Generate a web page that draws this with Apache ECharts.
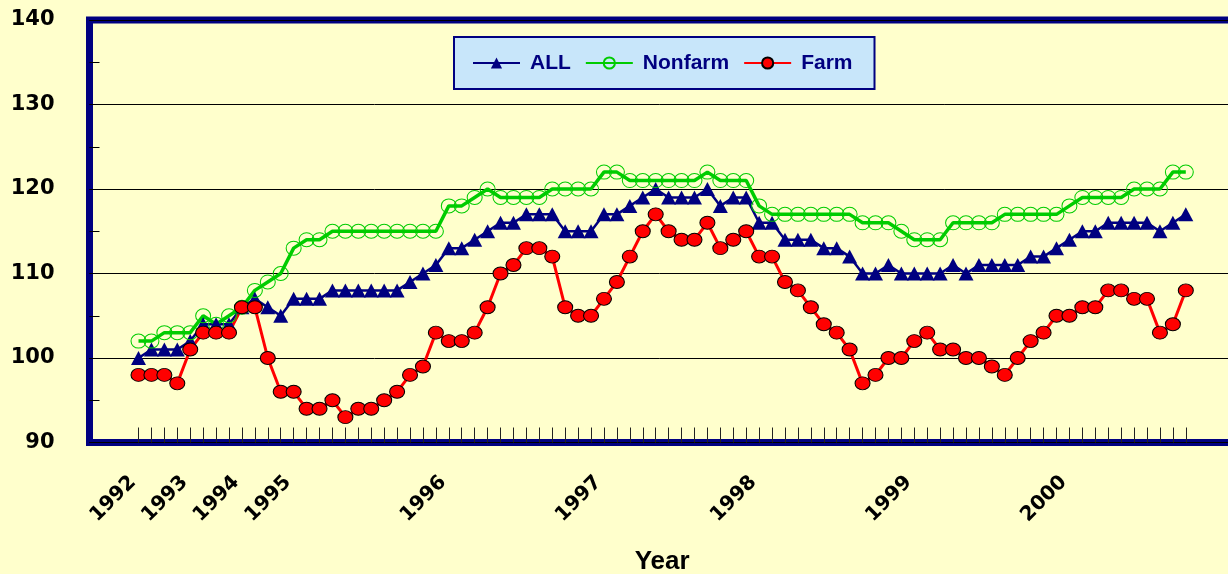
<!DOCTYPE html>
<html>
<head>
<meta charset="utf-8">
<script src="https://cdn.jsdelivr.net/npm/echarts@6/dist/echarts.min.js"></script>
<style>
html,body{margin:0;padding:0;background:#FFFFCC;}
#chart{width:1228px;height:574px;}
</style>
</head>
<body>
<div id="chart"></div>
<script>
// Periods: quarterly 1992-1994, monthly 1995 - Oct 2000
const categories = [];
['1992','1993','1994'].forEach(y => ['Q1','Q2','Q3','Q4'].forEach(q => categories.push(y + q)));
['1995','1996','1997','1998','1999','2000'].forEach(y => {
  const last = (y === '2000') ? 10 : 12;
  for (let m = 1; m <= last; m++) categories.push(y + '-' + (m < 10 ? '0' + m : m));
});

const tickLabels = {
  '1992Q1': '1992', '1993Q1': '1993', '1994Q1': '1994',
  '1995-01': '1995', '1996-01': '1996', '1997-01': '1997',
  '1998-01': '1998', '1999-01': '1999', '2000-01': '2000'
};

const allValues = [100,101,101,101,102,104,104,104,106,107,106,105,107,107,107,108,108,108,108,108,
  108,109,110,111,113,113,114,115,116,116,117,117,117,115,115,115,117,117,118,119,
  120,119,119,119,120,118,119,119,116,116,114,114,114,113,113,112,110,110,111,110,
  110,110,110,111,110,111,111,111,111,112,112,113,114,115,115,116,116,116,116,115,
  116,117];

const nonfarmValues = [102,102,103,103,103,105,104,105,106,108,109,110,113,114,114,115,115,115,115,115,
  115,115,115,115,118,118,119,120,119,119,119,119,120,120,120,120,122,122,121,121,
  121,121,121,121,122,121,121,121,118,117,117,117,117,117,117,117,116,116,116,115,
  114,114,114,116,116,116,116,117,117,117,117,117,118,119,119,119,119,120,120,120,
  122,122];

const farmValues = [98,98,98,97,101,103,103,103,106,106,100,96,96,94,94,95,93,94,94,95,
  96,98,99,103,102,102,103,106,110,111,113,113,112,106,105,105,107,109,112,115,
  117,115,114,114,116,113,114,115,112,112,109,108,106,104,103,101,97,98,100,100,
  102,103,101,101,100,100,99,98,100,102,103,105,105,106,106,108,108,107,107,103,
  104,108];

const yTicks = {min: 90, max: 140, step: 10};

const chart = echarts.init(document.getElementById('chart'), null, {renderer: 'canvas'});
const axisFont = 'DejaVu Sans';
chart.setOption({
  animation: false,
  backgroundColor: '#FFFFCC',
  grid: [
    {left: 89.5, top: 20, width: 1150, height: 422.5, show: true, outerBoundsMode: 'none', containLabel: false,
     backgroundColor: '#FFFFCC', borderColor: '#000080', borderWidth: 7},
    {left: 138.5, top: 20, width: 1047.3, height: 422.5, outerBoundsMode: 'none', containLabel: false}
  ],
  legend: {
    left: 454, top: 37,
    padding: [13, 22, 13, 18],
    itemGap: 14,
    itemWidth: 47, itemHeight: 14,
    backgroundColor: '#C8E6FA',
    borderColor: '#000080', borderWidth: 2,
    textStyle: {color: '#000080', fontWeight: 'bold', fontSize: 21,
      fontFamily: "'Liberation Sans', Arial, sans-serif", lineHeight: 26, padding: [0, 0, 0, 5]},
    data: ['ALL', 'Nonfarm', 'Farm']
  },
  xAxis: [
    {gridIndex: 0, type: 'value', min: 0, max: 1, show: false},
    {gridIndex: 1, type: 'category', boundaryGap: false, data: categories,
     axisLine: {show: false},
     axisTick: {show: true, inside: true, length: 15, interval: 0, lineStyle: {color: '#222', width: 1}},
     axisLabel: {interval: 0, rotate: 45, margin: 31, padding: [0, 8, 0, 0], fontSize: 20, fontWeight: 'bold',
       fontFamily: axisFont, color: '#000',
       formatter: v => tickLabels[v] || ''},
     splitLine: {show: false},
     name: 'Year', nameLocation: 'middle', nameGap: 119,
     nameTextStyle: {fontSize: 26, fontWeight: 'bold', fontFamily: "'Liberation Sans', Arial, sans-serif",
       color: '#000', verticalAlign: 'middle'}}
  ],
  yAxis: [
    {gridIndex: 0, type: 'value', min: yTicks.min, max: yTicks.max, interval: yTicks.step,
     axisLine: {show: false},
     axisTick: {show: true, inside: true, length: 19, lineStyle: {color: '#000'}},
     minorTick: {show: true, splitNumber: 2, length: 10, lineStyle: {color: '#000'}},
     axisLabel: {margin: 35, padding: [4, 0, 0, 0], fontSize: 21, fontWeight: 'bold', fontFamily: axisFont, color: '#000'},
     splitLine: {show: true, lineStyle: {color: '#000', width: 1}}},
    {gridIndex: 1, type: 'value', min: yTicks.min, max: yTicks.max, show: false,
     splitLine: {show: false}}
  ],
  series: [
    {name: 'ALL', type: 'line', xAxisIndex: 1, yAxisIndex: 1, data: allValues,
     showAllSymbol: true, symbol: 'triangle', symbolSize: [15, 14],
     lineStyle: {color: '#000080', width: 2.5},
     itemStyle: {color: '#000080', borderColor: '#000080', borderWidth: 0}},
    {name: 'Nonfarm', type: 'line', xAxisIndex: 1, yAxisIndex: 1, data: nonfarmValues,
     showAllSymbol: true, symbol: 'circle', symbolSize: [15, 14],
     lineStyle: {color: '#00CC00', width: 3.5},
     itemStyle: {color: 'rgba(0,0,0,0)', borderColor: '#00CC00', borderWidth: 1}},
    {name: 'Farm', type: 'line', xAxisIndex: 1, yAxisIndex: 1, data: farmValues,
     showAllSymbol: true, symbol: 'circle', symbolSize: [15, 13],
     lineStyle: {color: '#FF0000', width: 3},
     itemStyle: {color: '#FF0000', borderColor: '#000', borderWidth: 1}}
  ]
});
</script>
</body>
</html>
